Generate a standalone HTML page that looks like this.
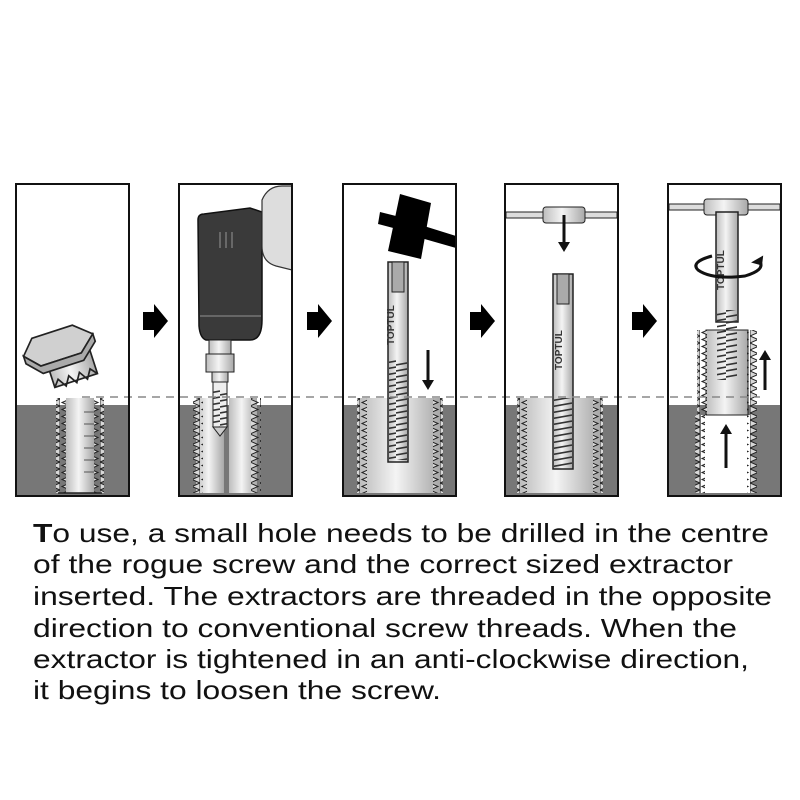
<!DOCTYPE html>
<html><head><meta charset="utf-8"><style>
html,body{margin:0;padding:0;background:#fff}
svg{display:block}
</style></head><body>
<svg width="800" height="800" viewBox="0 0 800 800" xmlns="http://www.w3.org/2000/svg">
<defs>
<linearGradient id="met" x1="0" x2="1" y1="0" y2="0">
<stop offset="0" stop-color="#bdbdbd"/><stop offset="0.45" stop-color="#f4f4f4"/><stop offset="1" stop-color="#a8a8a8"/>
</linearGradient>
<pattern id="zl" width="10" height="7" patternUnits="userSpaceOnUse">
<polygon points="10,0 2,3.5 10,7" fill="#d8d8d8" stroke="#222" stroke-width="1"/>
</pattern>
<pattern id="zr" width="10" height="7" patternUnits="userSpaceOnUse">
<polygon points="0,0 8,3.5 0,7" fill="#d8d8d8" stroke="#222" stroke-width="1"/>
</pattern>
<pattern id="spiral" width="22" height="6" patternUnits="userSpaceOnUse">
<line x1="0" y1="5" x2="22" y2="1" stroke="#333" stroke-width="1.6"/>
</pattern>
</defs>

<g fill="#777">
<rect x="16" y="405" width="113" height="90"/>
<rect x="179" y="405" width="113" height="90"/>
<rect x="343" y="405" width="113" height="90"/>
<rect x="505" y="405" width="113" height="90"/>
<rect x="668" y="405" width="113" height="90"/>
</g>

<!-- Panel1 screw -->
<rect x="66" y="398" width="28" height="95" fill="url(#met)"/>
<rect x="56" y="398" width="10" height="95" fill="url(#zl)"/>
<rect x="94" y="398" width="10" height="95" fill="url(#zr)"/>
<line x1="58" y1="493" x2="102" y2="493" stroke="#222" stroke-width="1.5"/>
<g stroke="#555" stroke-width="1">
<line x1="84" y1="412" x2="94" y2="412"/><line x1="84" y1="424" x2="94" y2="424"/><line x1="84" y1="436" x2="94" y2="436"/><line x1="84" y1="448" x2="94" y2="448"/><line x1="84" y1="460" x2="94" y2="460"/><line x1="84" y1="472" x2="94" y2="472"/>
</g>
<g transform="translate(65 357) scale(1.12) rotate(-18) translate(-65 -357)" stroke="#222" stroke-width="1.5">
<rect x="48" y="350" width="40" height="30" fill="url(#met)"/>
<polygon points="30,345 42,332 80,332 95,345 80,358 42,358" fill="#d0d0d0"/>
<polygon points="30,345 42,358 80,358 95,345 95,352 80,365 42,365 30,352" fill="#aaa"/>
<polyline points="48,380 53,374 58,382 63,374 68,382 73,374 78,382 83,374 88,380" fill="none"/>
</g>

<!-- Panel2 drill -->
<path d="M198 220 Q198 214 204 214 L250 208 L262 212 L262 320 Q262 340 250 340 L206 340 Q200 338 199 326 Z" fill="#3a3a3a" stroke="#111" stroke-width="1.5"/>
<line x1="200" y1="316" x2="261" y2="316" stroke="#666" stroke-width="2"/>
<g stroke="#777" stroke-width="1.5"><line x1="220" y1="232" x2="220" y2="248"/><line x1="226" y1="232" x2="226" y2="248"/><line x1="232" y1="232" x2="232" y2="248"/></g>
<path d="M262 200 Q268 186 282 186 L292 186 L292 270 L276 266 Q262 262 262 246 Z" fill="#ddd" stroke="#333" stroke-width="1.2"/>
<rect x="209" y="340" width="22" height="14" fill="url(#met)" stroke="#222"/>
<rect x="206" y="354" width="28" height="18" fill="url(#met)" stroke="#222"/>
<rect x="212" y="372" width="16" height="10" fill="url(#met)" stroke="#222"/>
<rect x="229" y="398" width="28" height="95" fill="url(#met)"/>
<rect x="196" y="398" width="28" height="95" fill="url(#met)"/>
<rect x="193" y="398" width="10" height="95" fill="url(#zl)"/>
<rect x="251" y="398" width="10" height="95" fill="url(#zr)"/>
<rect x="213" y="382" width="14" height="45" fill="#eee" stroke="#222"/>
<rect x="213" y="390" width="14" height="37" fill="url(#spiral)"/>
<polygon points="213,427 227,427 220,436" fill="#ccc" stroke="#222"/>

<!-- Panel3 -->
<polygon points="400,194 431,203 421,259 388,251" fill="#000"/>
<polygon points="380,212 400,217 397,229 378,224" fill="#000"/>
<polygon points="424,226 456,236 456,248 421,238" fill="#000"/>
<rect x="360" y="398" width="80" height="95" fill="url(#met)"/>
<rect x="357" y="398" width="10" height="95" fill="url(#zl)"/>
<rect x="433" y="398" width="10" height="95" fill="url(#zr)"/>
<rect x="388" y="262" width="20" height="200" fill="url(#met)" stroke="#222" stroke-width="1.5"/>
<rect x="392" y="262" width="12" height="30" fill="#aaa" stroke="#222"/>
<rect x="389" y="360" width="18" height="100" fill="url(#spiral)"/>
<text transform="translate(394 345) rotate(-90)" font-family="Liberation Sans" font-size="10" font-weight="bold" fill="#333">TOPTUL</text>
<line x1="428" y1="350" x2="428" y2="385" stroke="#111" stroke-width="3"/>
<polygon points="422,380 434,380 428,390" fill="#111"/>

<!-- Panel4 -->
<rect x="520" y="398" width="80" height="95" fill="url(#met)"/>
<rect x="517" y="398" width="10" height="95" fill="url(#zl)"/>
<rect x="593" y="398" width="10" height="95" fill="url(#zr)"/>
<rect x="506" y="212" width="111" height="6" fill="#ddd" stroke="#222"/>
<rect x="543" y="207" width="42" height="16" rx="3" fill="url(#met)" stroke="#222"/>
<line x1="564" y1="215" x2="564" y2="244" stroke="#111" stroke-width="3"/>
<polygon points="558,242 570,242 564,252" fill="#111"/>
<rect x="553" y="274" width="20" height="195" fill="url(#met)" stroke="#222" stroke-width="1.5"/>
<rect x="557" y="274" width="12" height="30" fill="#aaa" stroke="#222"/>
<rect x="554" y="398" width="18" height="70" fill="url(#spiral)"/>
<text transform="translate(562 370) rotate(-90)" font-family="Liberation Sans" font-size="10" font-weight="bold" fill="#333">TOPTUL</text>

<!-- Panel5 -->
<rect x="701" y="415" width="50" height="78" fill="#fff"/>
<rect x="695" y="415" width="10" height="78" fill="url(#zl)"/>
<rect x="747" y="415" width="10" height="78" fill="url(#zr)"/>
<rect x="706" y="330" width="42" height="85" fill="url(#met)" stroke="#222"/>
<rect x="697" y="330" width="10" height="85" fill="url(#zl)"/>
<rect x="747" y="330" width="10" height="85" fill="url(#zr)"/>
<rect x="669" y="204" width="111" height="6" fill="#ddd" stroke="#222"/>
<rect x="704" y="199" width="44" height="16" rx="3" fill="url(#met)" stroke="#222"/>
<rect x="716" y="212" width="22" height="110" fill="url(#met)" stroke="#222" stroke-width="1.5"/>
<rect x="717" y="310" width="20" height="70" fill="url(#spiral)"/>
<text transform="translate(724 290) rotate(-90)" font-family="Liberation Sans" font-size="10" font-weight="bold" fill="#333">TOPTUL</text>
<path d="M712 256 Q690 262 698 270 Q712 280 745 276 Q765 270 760 262" fill="none" stroke="#111" stroke-width="3"/>
<polygon points="752,258 766,258 760,266" fill="#111" transform="rotate(-30 760 262)"/>
<line x1="765" y1="390" x2="765" y2="358" stroke="#111" stroke-width="3"/>
<polygon points="759,360 771,360 765,350" fill="#111"/>
<line x1="726" y1="468" x2="726" y2="432" stroke="#111" stroke-width="3"/>
<polygon points="720,434 732,434 726,424" fill="#111"/>

<line x1="82" y1="397" x2="760" y2="397" stroke="#888" stroke-width="1.5" stroke-dasharray="8 6"/>

<g fill="none" stroke="#111" stroke-width="2">
<rect x="16" y="184" width="113" height="312"/>
<rect x="179" y="184" width="113" height="312"/>
<rect x="343" y="184" width="113" height="312"/>
<rect x="505" y="184" width="113" height="312"/>
<rect x="668" y="184" width="113" height="312"/>
</g>

<g fill="#000">
<polygon points="143,312 154,312 154,304 168,321 154,338 154,330 143,330"/>
<polygon points="307,312 318,312 318,304 332,321 318,338 318,330 307,330"/>
<polygon points="470,312 481,312 481,304 495,321 481,338 481,330 470,330"/>
<polygon points="632,312 643,312 643,304 657,321 643,338 643,330 632,330"/>
</g>

<g font-family="Liberation Sans, sans-serif" font-size="26" fill="#111">
<text x="33" y="542" textLength="736" lengthAdjust="spacingAndGlyphs"><tspan font-weight="bold">T</tspan>o use, a small hole needs to be drilled in the centre</text>
<text x="33" y="573" textLength="700" lengthAdjust="spacingAndGlyphs">of the rogue screw and the correct sized extractor</text>
<text x="33" y="605" textLength="739" lengthAdjust="spacingAndGlyphs">inserted. The extractors are threaded in the opposite</text>
<text x="33" y="637" textLength="704" lengthAdjust="spacingAndGlyphs">direction to conventional screw threads. When the</text>
<text x="33" y="668" textLength="716" lengthAdjust="spacingAndGlyphs">extractor is tightened in an anti-clockwise direction,</text>
<text x="33" y="699" textLength="408" lengthAdjust="spacingAndGlyphs">it begins to loosen the screw.</text>
</g>
</svg>
</body></html>
